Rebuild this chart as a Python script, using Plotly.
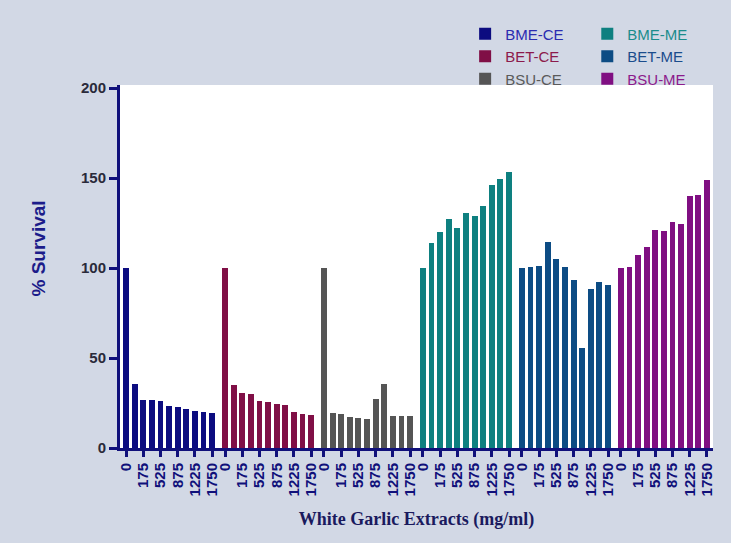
import plotly.graph_objects as go

groups = ["BME-CE", "BET-CE", "BSU-CE", "BME-ME", "BET-ME", "BSU-ME"]
conc_labels = ["0", "", "175", "", "525", "", "875", "", "1225", "", "1750"]

bme_ce = [100, 35.5, 26.9, 26.6, 26.0, 23.6, 23.0, 21.4, 20.4, 20.1, 19.3]
bet_ce = [100, 34.9, 30.8, 29.9, 26.0, 25.5, 24.3, 23.8, 20.1, 19.0, 18.2]
bsu_ce = [100, 19.7, 18.8, 17.3, 16.9, 16.2, 27.5, 35.5, 18.0, 18.0, 18.0]
bme_me = [100, 113.7, 120.2, 127.5, 122.3, 130.4, 129.1, 134.2, 146.0, 149.4, 153.5]
bet_me = [100, 100.7, 101.4, 114.3, 105.2, 100.7, 93.1, 55.7, 88.6, 92.0, 90.7]
bsu_me = [100, 100.7, 107.2, 111.9, 121.3, 120.8, 125.6, 124.3, 140.1, 140.5, 149.0]

series = [bme_ce, bet_ce, bsu_ce, bme_me, bet_me, bsu_me]
bar_colors = ["#0c0c80", "#800f46", "#555555", "#0e8080", "#0d4c84", "#800f82"]
text_colors = ["#2b2bb0", "#8c1a4c", "#5a5a5a", "#1a8c8c", "#1a4c8c", "#8c1a8c"]

GROUP_STEP = 11.5
fig = go.Figure()
tickvals, ticktext = [], []
for g, (name, vals) in enumerate(zip(groups, series)):
    xs = [g * GROUP_STEP + i for i in range(len(vals))]
    for x, lab in zip(xs, conc_labels):
        if lab:
            tickvals.append(x)
            ticktext.append(lab)
    fig.add_trace(go.Bar(
        x=xs, y=vals, width=0.68,
        name=f"<span style='color:{text_colors[g]}'>{name}</span>",
        marker=dict(color=bar_colors[g], line=dict(width=0)),
        legend="legend" if g < 3 else "legend2",
    ))

navy = "#10107a"
fig.update_layout(
    width=731, height=543,
    margin=dict(l=120, r=18, t=85, b=95),
    paper_bgcolor="#d2d8e5",
    plot_bgcolor="white",
    barmode="overlay",
    bargap=0,
    showlegend=True,
    font=dict(family="Liberation Sans, Arial", color=navy),
    legend=dict(x=0.582, y=1.186, xanchor="left", yanchor="top",
                bgcolor="rgba(0,0,0,0)", font=dict(size=15, family="Liberation Sans, Arial")),
    legend2=dict(x=0.788, y=1.186, xanchor="left", yanchor="top",
                 bgcolor="rgba(0,0,0,0)", font=dict(size=15, family="Liberation Sans, Arial")),
    xaxis=dict(
        range=[-0.7, 5 * GROUP_STEP + 10 + 0.7],
        tickmode="array", tickvals=tickvals, ticktext=ticktext,
        tickangle=-90, ticks="outside", ticklen=6, tickwidth=2.5, tickcolor=navy,
        tickfont=dict(size=15, family="Liberation Sans, Arial", color=navy, weight="bold"),
        showline=True, linecolor=navy, linewidth=3, showgrid=False, zeroline=False,
        title=dict(text="<b>White Garlic Extracts (mg/ml)</b>",
                   font=dict(family="Liberation Serif, Times New Roman", size=18, color="#1a1a5e"),
                   standoff=18),
    ),
    yaxis=dict(
        range=[0, 201.7], tickvals=[0, 50, 100, 150, 200],
        ticks="outside", ticklen=8, tickwidth=3, tickcolor=navy,
        tickfont=dict(size=15, color="#2a2a3a", weight="bold"),
        showline=True, linecolor=navy, linewidth=3, showgrid=False, zeroline=False,
    ),
    annotations=[dict(
        text="<b>% Survival</b>", textangle=-90, xref="paper", yref="paper",
        x=-0.138, y=0.55, showarrow=False, xanchor="center", yanchor="middle",
        font=dict(size=19, color="#1c1c8a", family="Liberation Sans, Arial"),
    )],
)

fig.write_html("out.html", config={"displayModeBar": False})

with open("out.html", "r", encoding="utf-8") as f:
    html = f.read()
html = html.replace("<head>", "<head><style>html,body{margin:0;padding:0;overflow:hidden;}</style>", 1)
with open("out.html", "w", encoding="utf-8") as f:
    f.write(html)
